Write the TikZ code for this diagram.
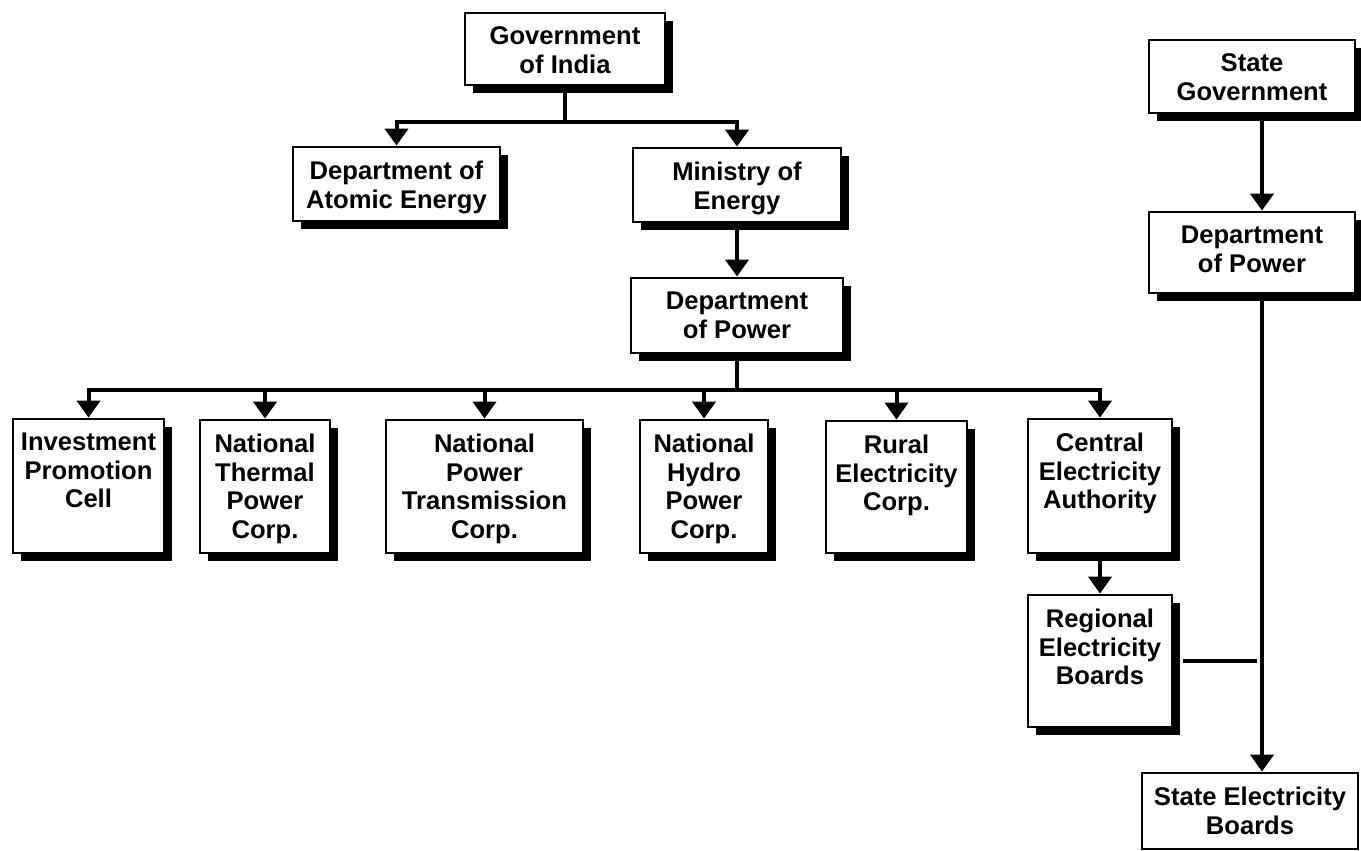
\documentclass[tikz,border=0pt]{standalone}
\usepackage{fontspec}
\setmainfont{Liberation Sans}
\usetikzlibrary{arrows.meta}
\usetikzlibrary{shadows}

\begin{document}
\begin{tikzpicture}[x=0.5pt,y=-0.5pt,
        orgbox/.style={draw=black, line width=1.4pt, fill=white, inner sep=0pt,
            drop shadow={shadow xshift=4pt, shadow yshift=-4pt, fill=black, opacity=1}},
        plainbox/.style={draw=black, line width=1.4pt, fill=white, inner sep=0pt},
        lbl/.style={anchor=north, yshift=-7.5pt, align=center, inner sep=0pt,
            font=\fontsize{12.8}{14.3}\selectfont\bfseries},
        link/.style={black, line width=2pt},
        linkarrow/.style={black, line width=2pt, -{Triangle[width=11.5pt,length=8.5pt]}}]
        \useasboundingbox (0,0) rectangle (1361,851);
        \node[orgbox, minimum width=100pt, minimum height=36pt, label={[lbl]north:{Government\\of India}}] (gov) at (565,49) {};
        \node[orgbox, minimum width=103.5pt, minimum height=37pt, label={[lbl]north:{Department of\\Atomic Energy}}] (dae) at (396.5,184) {};
        \node[orgbox, minimum width=104pt, minimum height=37pt, label={[lbl]north:{Ministry of\\Energy}}] (moe) at (737,185) {};
        \node[orgbox, minimum width=106pt, minimum height=37.5pt, label={[lbl]north:{Department\\of Power}}] (dop) at (737,315.5) {};
        \node[orgbox, minimum width=75.5pt, minimum height=67pt, label={[lbl]north:{Investment\\Promotion\\Cell}}] (ipc) at (88.5,486) {};
        \node[orgbox, minimum width=65pt, minimum height=66.5pt, label={[lbl]north:{National\\Thermal\\Power\\Corp.}}] (ntpc) at (265,486.5) {};
        \node[orgbox, minimum width=98.5pt, minimum height=66.5pt, label={[lbl]north:{National\\Power\\Transmission\\Corp.}}] (nptc) at (484.5,486.5) {};
        \node[orgbox, minimum width=64pt, minimum height=66.5pt, label={[lbl]north:{National\\Hydro\\Power\\Corp.}}] (nhpc) at (704,486.5) {};
        \node[orgbox, minimum width=70.5pt, minimum height=66pt, label={[lbl]north:{Rural\\Electricity\\Corp.}}] (rec) at (896.5,487) {};
        \node[orgbox, minimum width=72pt, minimum height=67pt, label={[lbl]north:{Central\\Electricity\\Authority}}] (cea) at (1100,486) {};
        \node[orgbox, minimum width=72pt, minimum height=66pt, label={[lbl]north:{Regional\\Electricity\\Boards}}] (reb) at (1100,661) {};
        \node[orgbox, minimum width=103pt, minimum height=36.5pt, label={[lbl]north:{State\\Government}}] (sg) at (1252,76.5) {};
        \node[orgbox, minimum width=103pt, minimum height=40.5pt, label={[lbl]north:{Department\\of Power}}] (sdop) at (1252,252.5) {};
        \node[plainbox, minimum width=108pt, minimum height=38pt, label={[lbl]north:{State Electricity\\Boards}}] (seb) at (1250,811) {};
        \coordinate (govbus) at (565,122);
        \coordinate (dopbus) at (737,390);
        \coordinate (rebtie) at (1257,661);
        \draw[link] (gov.south) -- (govbus);
        \draw[linkarrow] (govbus) -| (dae.north);
        \draw[linkarrow] (govbus) -| (moe.north);
        \draw[linkarrow] (moe.south) -- (dop.north);
        \draw[link] (dop.south) -- (dopbus);
        \foreach \unit in {ipc,ntpc,nptc,nhpc,rec,cea}
            \draw[linkarrow] (dopbus) -| (\unit.north);
        \draw[linkarrow] (cea.south) -- (reb.north);
        \draw[linkarrow] ([xshift=5pt]sg.south) -- ([xshift=5pt]sdop.north);
        \draw[linkarrow] ([xshift=5pt]sdop.south) -- ([xshift=5pt]sdop.south |- seb.north);
        \draw[link] ([xshift=5pt]reb.east) -- (rebtie);
    \end{tikzpicture}
\end{document}
